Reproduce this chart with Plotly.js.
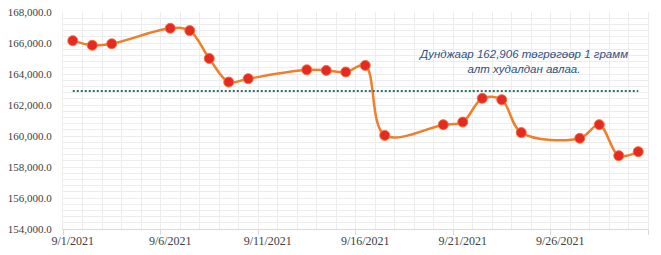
<!DOCTYPE html>
<html>
<head>
<meta charset="utf-8">
<script src="https://cdn.plot.ly/plotly-3.0.1.min.js"></script>
<style>html,body{margin:0;padding:0;background:#fff;}#chart{width:661px;height:255px;}</style>
</head>
<body>
<div id="chart"></div>
<script>
const dates = ['2021-09-01','2021-09-02','2021-09-03','2021-09-06','2021-09-07','2021-09-08','2021-09-09','2021-09-10',
  '2021-09-13','2021-09-14','2021-09-15','2021-09-16','2021-09-17','2021-09-20','2021-09-21','2021-09-22','2021-09-23',
  '2021-09-24','2021-09-27','2021-09-28','2021-09-29','2021-09-30'];
const prices = [166150,165850,165950,166950,166800,165000,163480,163700,
  164270,164230,164130,164550,160040,160730,160900,162430,162340,
  160220,159850,160730,158730,158990];
const meanPrice = 162906;
const labelDates = ['2021-09-01','2021-09-06','2021-09-11','2021-09-16','2021-09-21','2021-09-26'];
const labelTexts = ['9/1/2021','9/6/2021','9/11/2021','9/16/2021','9/21/2021','9/26/2021'];
const boundaryTicks = ['2021-08-31 12:00','2021-09-05 12:00','2021-09-10 12:00','2021-09-15 12:00','2021-09-20 12:00','2021-09-25 12:00','2021-09-30 12:00'];
const noteText = 'Дунджаар 162,906 төгрөгөөр 1 грамм<br>алт худалдан авлаа.';

const xRange = ['2021-08-31 12:00','2021-09-30 12:00'];
const grid = '#EDEDED';
const tickFont = {family:'Liberation Serif, serif', size:11, color:'#404040'};

const traces = [
  {
    x: [dates[0], dates[dates.length-1]], y: [meanPrice, meanPrice],
    xaxis: 'x2', yaxis: 'y',
    mode: 'lines', line: {color:'#2A7068', width:2, dash:'2px,2px'},
    hoverinfo: 'skip', showlegend: false
  },
  {
    x: dates, y: prices,
    mode: 'lines+markers',
    line: {color:'#F07E2A', width:2.5, shape:'spline', smoothing:1},
    marker: {color:'#E62A22', size:10, line:{color:'#F2703A', width:1}},
    showlegend: false
  }
];

const layout = {
  width: 661, height: 255,
  margin: {l:63, r:13, t:12, b:26},
  paper_bgcolor: '#fff', plot_bgcolor: '#fff',
  showlegend: false,
  xaxis: {
    type: 'date', range: xRange,
    showgrid: false, zeroline: false,
    tickmode: 'array', tickvals: boundaryTicks,
    showticklabels: false,
    ticks: 'outside', ticklen: 5, tickcolor: '#D9D9D9', tickwidth: 1,
    showline: true, linecolor: '#D9D9D9', linewidth: 1,
    minor: {tickmode:'linear', tick0:'2021-08-31 12:00', dtick:86400000, showgrid:true, gridcolor:grid, gridwidth:1, ticks:''}
  },
  xaxis2: {
    type: 'date', overlaying: 'x', matches: 'x', range: xRange,
    showgrid: false, zeroline: false, showline: false,
    tickmode: 'array', tickvals: labelDates, ticktext: labelTexts,
    ticks: '', tickfont: {family:'Liberation Serif, serif', size:12, color:'#404040'},
    side: 'bottom', ticklabelstandoff: 3
  },
  yaxis: {
    range: [154000, 168000],
    tickmode: 'linear', tick0: 154000, dtick: 2000,
    tickformat: ',.1f',
    tickfont: tickFont,
    showgrid: true, gridcolor: grid, gridwidth: 1,
    zeroline: false,
    showline: true, mirror: true, linecolor: grid, linewidth: 1,
    ticks: '', ticklabelstandoff: 8,
    minor: {tickmode:'linear', tick0:154000, dtick:400, showgrid:true, gridcolor:grid, gridwidth:1, ticks:''}
  },
  annotations: [{
    xref:'paper', yref:'paper', x:0.786, y:0.77,
    xanchor:'center', yanchor:'middle',
    text: noteText, showarrow:false, align:'center',
    font: {family:'Liberation Sans, Arial, sans-serif', size:11.5, color:'#2F4F80', style:'italic'}
  }]
};

Plotly.newPlot('chart', traces, layout, {displayModeBar:false, staticPlot:true});
</script>
</body>
</html>
